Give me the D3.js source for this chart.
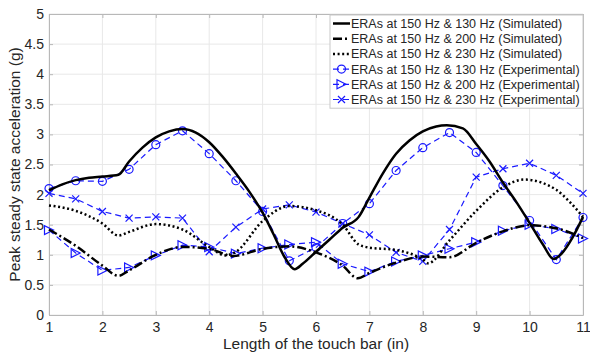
<!DOCTYPE html>
<html>
<head>
<meta charset="utf-8">
<script src="https://cdn.jsdelivr.net/npm/d3@7"></script>
<style>
  body { margin: 0; background: #fff; }
  text { font-family: "Liberation Sans", Arial, sans-serif; fill: #262626; }
</style>
</head>
<body>
<div id="vis"></div>
<script>
// experimental points, every half inch
const xExp = [1, 1.5, 2, 2.5, 3, 3.5, 4, 4.5, 5, 5.5, 6, 6.5, 7, 7.5, 8, 8.5, 9, 9.5, 10, 10.5, 11];
const exp130 = [2.1, 2.23, 2.22, 2.42, 2.83, 3.06, 2.68, 2.23, 1.72, 0.9, 1.12, 1.52, 1.85, 2.4, 2.78, 3.03, 2.7, 2.15, 1.57, 0.92, 1.62];
const exp200 = [1.41, 1.03, 0.74, 0.79, 0.99, 1.16, 1.13, 1.02, 1.11, 1.17, 1.21, 0.85, 0.72, 0.89, 0.99, 1.1, 1.21, 1.4, 1.5, 1.43, 1.27];
const exp230 = [2.02, 1.93, 1.72, 1.61, 1.63, 1.61, 1.05, 1.46, 1.76, 1.83, 1.71, 1.52, 1.33, 1.04, 0.89, 1.42, 2.29, 2.43, 2.52, 2.32, 2.02];

// simulated curves
const xSim130 = [1, 1.25, 1.5, 1.75, 2, 2.3, 2.5, 2.75, 3, 3.25, 3.5, 3.75, 4, 4.25, 4.5, 4.75, 5, 5.2, 5.4, 5.6, 5.75, 6, 6.25, 6.5, 6.8, 7, 7.25, 7.5, 7.75, 8, 8.25, 8.45, 8.75, 9, 9.25, 9.5, 9.75, 10, 10.25, 10.45, 10.6, 10.8, 11];
const sim130 = [2.07, 2.17, 2.24, 2.28, 2.3, 2.33, 2.55, 2.78, 2.95, 3.05, 3.09, 3.03, 2.87, 2.63, 2.35, 2.05, 1.7, 1.35, 0.98, 0.76, 0.85, 1.05, 1.25, 1.45, 1.63, 1.95, 2.35, 2.68, 2.9, 3.05, 3.13, 3.15, 3.1, 2.84, 2.55, 2.2, 1.88, 1.53, 1.17, 0.93, 1.02, 1.28, 1.63];
const xSim200 = [1, 1.5, 2, 2.3, 2.5, 3, 3.5, 4, 4.45, 5, 5.5, 6, 6.5, 6.78, 7, 7.5, 8, 8.5, 9, 9.5, 10, 10.5, 11];
const sim200 = [1.42, 1.15, 0.82, 0.65, 0.74, 1.0, 1.13, 1.1, 0.98, 1.1, 1.14, 1.04, 0.82, 0.61, 0.7, 0.87, 0.97, 0.96, 1.2, 1.39, 1.49, 1.44, 1.28];
const xSim230 = [1, 1.5, 2, 2.3, 2.5, 3, 3.5, 4, 4.3, 4.5, 5, 5.5, 6, 6.5, 6.8, 7, 7.5, 8, 8.1, 8.5, 9, 9.5, 9.9, 10.5, 10.75, 11];
const sim230 = [1.82, 1.73, 1.52, 1.32, 1.38, 1.51, 1.42, 1.13, 0.99, 1.05, 1.56, 1.81, 1.74, 1.5, 1.17, 1.12, 1.08, 0.92, 0.86, 1.24, 1.73, 2.12, 2.25, 2.08, 1.88, 1.63];

const xTicks = [1, 2, 3, 4, 5, 6, 7, 8, 9, 10, 11];
const yTicks = [0, 0.5, 1, 1.5, 2, 2.5, 3, 3.5, 4, 4.5, 5];

const legendLabels = [
  "ERAs at 150 Hz & 130 Hz (Simulated)",
  "ERAs at 150 Hz & 200 Hz (Simulated)",
  "ERAs at 150 Hz & 230 Hz (Simulated)",
  "ERAs at 150 Hz & 130 Hz (Experimental)",
  "ERAs at 150 Hz & 200 Hz (Experimental)",
  "ERAs at 150 Hz & 230 Hz (Experimental)"
];

const width = 590, height = 357;
const mLeft = 49, mRight = 583, mTop = 14, mBottom = 315;

const x = d3.scaleLinear().domain([1, 11]).range([mLeft, mRight]);
const y = d3.scaleLinear().domain([0, 5]).range([mBottom, mTop]);

const svg = d3.select("div#vis").append("svg").attr("width", width).attr("height", height);

// grid
svg.append("g").selectAll("line").data(xTicks).enter().append("line")
  .attr("x1", d => x(d)).attr("x2", d => x(d)).attr("y1", mTop).attr("y2", mBottom)
  .attr("stroke", "#e8e8e8").attr("stroke-width", 1);
svg.append("g").selectAll("line").data(yTicks).enter().append("line")
  .attr("x1", mLeft).attr("x2", mRight).attr("y1", d => y(d)).attr("y2", d => y(d))
  .attr("stroke", "#e8e8e8").attr("stroke-width", 1);

// axes (ticks inward, box on)
const axisColor = "#b8b8b8";
const styleAxis = g => {
  g.select(".domain").attr("stroke", axisColor);
  g.selectAll(".tick line").attr("stroke", axisColor);
  g.selectAll(".tick text").attr("font-size", 14).attr("fill", "#303030")
    .attr("font-family", "Liberation Sans, Arial, sans-serif");
};
svg.append("g").attr("transform", `translate(0,${mBottom})`)
  .call(d3.axisBottom(x).tickValues(xTicks).tickSize(-4).tickSizeOuter(0).tickPadding(7).tickFormat(d3.format("d")))
  .call(styleAxis);
svg.append("g").attr("transform", `translate(${mLeft},0)`)
  .call(d3.axisLeft(y).tickValues(yTicks).tickSize(-4).tickSizeOuter(0).tickPadding(5).tickFormat(d => d))
  .call(styleAxis);
svg.append("g").attr("transform", `translate(0,${mTop})`)
  .call(d3.axisTop(x).tickValues(xTicks).tickSize(-4).tickSizeOuter(0).tickFormat(""))
  .call(styleAxis);
svg.append("g").attr("transform", `translate(${mRight},0)`)
  .call(d3.axisRight(y).tickValues(yTicks).tickSize(-4).tickSizeOuter(0).tickFormat(""))
  .call(styleAxis);

// axis labels
svg.append("text").attr("x", (mLeft + mRight) / 2).attr("y", 349)
  .attr("text-anchor", "middle").attr("font-size", 15.5).text("Length of the touch bar (in)");
svg.append("text").attr("transform", `translate(20,${(mTop + mBottom) / 2}) rotate(-90)`)
  .attr("text-anchor", "middle").attr("font-size", 15.5).text("Peak steady state acceleration (g)");

const simLine = d3.line().x(d => x(d[0])).y(d => y(d[1])).curve(d3.curveMonotoneX);
const expLine = d3.line().x(d => x(d[0])).y(d => y(d[1]));

const sims = [
  { xs: xSim130, ys: sim130, dash: null },
  { xs: xSim200, ys: sim200, dash: "9,3,2,3" },
  { xs: xSim230, ys: sim230, dash: "2,2.6" }
];
const exps = [
  { ys: exp130, marker: "circle" },
  { ys: exp200, marker: "triangle" },
  { ys: exp230, marker: "x" }
];

const blue = "#1a1aff";

const drawMarker = (g, type, cx, cy) => {
  if (type === "circle") {
    g.append("circle").attr("cx", cx).attr("cy", cy).attr("r", 4)
      .attr("fill", "none").attr("stroke", blue).attr("stroke-width", 1.2);
  } else if (type === "triangle") {
    const s = 4.5;
    g.append("path").attr("d", `M${cx + s},${cy} L${cx - s},${cy - s} L${cx - s},${cy + s} Z`)
      .attr("fill", "none").attr("stroke", blue).attr("stroke-width", 1.2);
  } else {
    const s = 3.5;
    g.append("path").attr("d", `M${cx - s},${cy - s} L${cx + s},${cy + s} M${cx - s},${cy + s} L${cx + s},${cy - s}`)
      .attr("fill", "none").attr("stroke", blue).attr("stroke-width", 1.2);
  }
};

const plot = svg.append("g");

exps.forEach(s => {
  const pts = xExp.map((xv, i) => [xv, s.ys[i]]);
  plot.append("path").attr("d", expLine(pts)).attr("fill", "none")
    .attr("stroke", blue).attr("stroke-width", 1.2).attr("stroke-dasharray", "6,4");
  pts.forEach(p => drawMarker(plot, s.marker, x(p[0]), y(p[1])));
});

sims.forEach(s => {
  const pts = s.xs.map((xv, i) => [xv, s.ys[i]]);
  const p = plot.append("path").attr("d", simLine(pts)).attr("fill", "none")
    .attr("stroke", "#000").attr("stroke-width", 2.5);
  if (s.dash) p.attr("stroke-dasharray", s.dash);
});

// legend
const lg = svg.append("g");
const lgX = 330, lgY = 15, lgW = 253, rowH = 15.2;
lg.append("rect").attr("x", lgX).attr("y", lgY).attr("width", lgW).attr("height", rowH * 6 + 2)
  .attr("fill", "#fff").attr("stroke", "#c8c8c8").attr("stroke-width", 1);
legendLabels.forEach((label, i) => {
  const cy = lgY + 8.5 + i * rowH;
  const x1 = lgX + 3, x2 = lgX + 20;
  if (i < 3) {
    const l = lg.append("line").attr("x1", x1).attr("x2", x2).attr("y1", cy).attr("y2", cy)
      .attr("stroke", "#000").attr("stroke-width", 2.5);
    if (sims[i].dash) l.attr("stroke-dasharray", sims[i].dash);
  } else {
    lg.append("line").attr("x1", x1).attr("x2", x2).attr("y1", cy).attr("y2", cy)
      .attr("stroke", blue).attr("stroke-width", 1.2).attr("stroke-dasharray", "6,4");
    drawMarker(lg, exps[i - 3].marker, (x1 + x2) / 2, cy);
  }
  lg.append("text").attr("x", lgX + 21).attr("y", cy + 4.5).attr("font-size", 12.5).text(label);
});
</script>
</body>
</html>
